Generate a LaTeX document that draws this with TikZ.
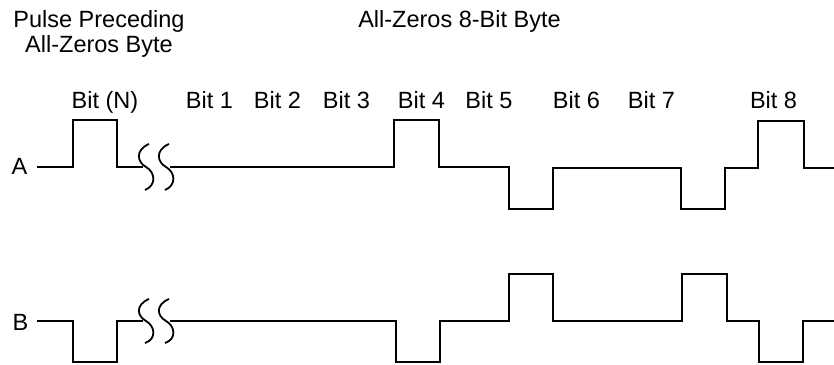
\documentclass[tikz,border=0pt]{standalone}
\usepackage{fontspec}
\setmainfont{Liberation Sans}
\begin{document}
\begin{tikzpicture}[x=1pt,y=-1pt,
  lbl/.style={inner sep=0pt,anchor=base,font=\fontsize{23.5}{25}\selectfont},
  wave/.style={line width=1.8pt,line join=miter},
  brk/.style={line width=1.8pt}]
\useasboundingbox (0,0) rectangle (834,364);
% titles
\node[lbl] (t1) at (99,27) {Pulse Preceding};
\node[lbl] (t2) at (99,52) {All-Zeros Byte};
\node[lbl] (t3) at (459.5,27) {All-Zeros 8-Bit Byte};
% bit labels
\node[lbl] (bn) at (105,108) {Bit (N)};
\node[lbl] (b1) at (209.5,108) {Bit 1};
\node[lbl] (b2) at (277.5,108) {Bit 2};
\node[lbl] (b3) at (346.5,108) {Bit 3};
\node[lbl] (b4) at (421.5,108) {Bit 4};
\node[lbl] (b5) at (489,108) {Bit 5};
\node[lbl] (b6) at (576.5,108) {Bit 6};
\node[lbl] (b7) at (651.5,108) {Bit 7};
\node[lbl] (b8) at (773.5,108) {Bit 8};
% channel labels
\node[lbl] (la) at (19.5,174) {A};
\node[lbl] (lb) at (20.5,330) {B};
% waveform A
\draw[wave] (37,167) -- (73,167) -- (73,120) -- (117,120) -- (117,167) -- (143,167);
\draw[wave] (170,167) -- (394,167) -- (394,120) -- (439,120) -- (439,167) -- (509,167)
  -- (509,209) -- (553,209) -- (553,168) -- (681,168) -- (681,209) -- (725,209)
  -- (725,168) -- (758,168) -- (758,121) -- (804,121) -- (804,168) -- (834,168);
% waveform B
\draw[wave] (37,321) -- (73,321) -- (73,362) -- (117,362) -- (117,321) -- (143,321);
\draw[wave] (170,321) -- (396,321) -- (396,362) -- (440,362) -- (440,321) -- (509,321)
  -- (509,274) -- (553,274) -- (553,321) -- (682,321) -- (682,274) -- (727,274)
  -- (727,321) -- (759,321) -- (759,362) -- (803,362) -- (803,321) -- (834,321);
% break marks
\foreach \x in {147,167}{
  \draw[brk] (\x+2,144) .. controls (\x-12,150) and (\x-10,162) .. (\x-1,167)
    .. controls (\x+8,172) and (\x+10,185) .. (\x-2,190);
  \draw[brk] (\x+2,299) .. controls (\x-12,305) and (\x-10,316) .. (\x-1,321)
    .. controls (\x+8,326) and (\x+10,339) .. (\x-2,343);
}
\end{tikzpicture}
\end{document}
